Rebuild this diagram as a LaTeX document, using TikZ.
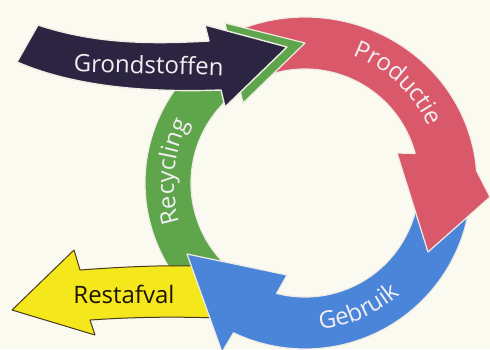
\documentclass[tikz,border=0pt]{standalone}
\usepackage{fontspec}
\newfontfamily\osans{Open Sans}
\usetikzlibrary{calc,decorations.text}
\definecolor{bg}{HTML}{FBFAF0}
\definecolor{cred}{HTML}{D9596B}
\definecolor{cblue}{HTML}{4B85DA}
\definecolor{cgreen}{HTML}{5EA54B}
\definecolor{cnavy}{HTML}{2B2542}
\definecolor{cyel}{HTML}{F4E71C}
\definecolor{cbrown}{HTML}{4A3A1E}
\definecolor{ctext}{HTML}{F2EEF2}
\definecolor{rim}{HTML}{EFEDE3}
\newcommand\arcfont{\osans\fontsize{12}{14}\selectfont\color{ctext}}
\tikzset{
  band/.style={draw=rim, line width=0.6pt, line join=round},
  lbl/.style={font=\osans\fontsize{12}{14}\selectfont, anchor=base, inner sep=0pt},
}
\begin{document}
\begin{tikzpicture}[x=0.5pt,y=-0.5pt]
\path[use as bounding box] (0,0) rectangle (490,349);
\fill[bg] (0,0) rectangle (490,349);
\clip (0,0) rectangle (490,349);
\coordinate (C) at (305,183);
% green (recycling)
\path[band, fill=cgreen] ($(C)+(130:160)$) arc[start angle=130,end angle=241.7,radius=160]
  -- (225,23) -- (305,43) -- (243,103) -- ($(C)+(235.2:114)$)
  arc[start angle=235.2,end angle=130,radius=114] -- cycle;
% yellow (restafval)
\path[fill=cyel, draw=cbrown, line width=0.5pt, line join=round]
  (12,310) -- (74,250) -- (80,270) .. controls (120,267) and (160,265) .. (200,266)
  -- (218,318) .. controls (160,316) and (120,318) .. (90,320) -- (95,335) -- cycle;
% blue (gebruik)
\path[band, fill=cblue] ($(C)+(0:166)$) arc[start angle=0,end angle=115.5,radius=166]
  -- (222,352) -- (187,254) -- (287,275) -- ($(C)+(104.4:114)$)
  arc[start angle=104.4,end angle=0,radius=114] -- cycle;
% red (productie)
\path[band, fill=cred] ($(C)+(248:172 and 166)$) arc[start angle=248,end angle=355.7,x radius=172,y radius=166]
  -- (490,197) -- (428,252) -- (397,153) -- ($(C)+(345:114)$)
  arc[start angle=345,end angle=248,radius=114] -- cycle;
% green head again, above the red tail
\begin{scope}
\clip (150,0) rectangle (320,125);
\path[band, fill=cgreen] ($(C)+(130:160)$) arc[start angle=130,end angle=241.7,radius=160]
  -- (225,23) -- (305,43) -- (243,103) -- ($(C)+(235.2:114)$)
  arc[start angle=235.2,end angle=130,radius=114] -- cycle;
\end{scope}
% navy (grondstoffen)
\path[band, fill=cnavy, line width=0.7pt] (38,25) .. controls (90,42) and (140,45) .. (209,41)
  -- (205,25) -- (287,47) -- (225,107) -- (221,90) .. controls (140,93) and (70,85) .. (17,62) -- cycle;
% labels
\node[lbl, text=ctext, rotate=-1.5] (grond) at (148.5,73.5) {Grondstoffen};
\node[lbl, text=black!85!brown] (rest) at (124,303) {Restafval};
\path[decorate, decoration={text along path, text align=center, text={|\arcfont|Productie}}]
  ($(C)+(278:136)$) arc[start angle=278,end angle=348,radius=136];
\path[decorate, decoration={text along path, text align=center, text={|\arcfont|Recycling}}]
  ($(C)+(150:131)$) arc[start angle=150,end angle=220,radius=131];
\path[decorate, decoration={text along path, text align=center, text={|\arcfont|Gebruik}}]
  ($(C)+(101.8:147)$) arc[start angle=101.8,end angle=31.8,radius=147];
\end{tikzpicture}
\end{document}
